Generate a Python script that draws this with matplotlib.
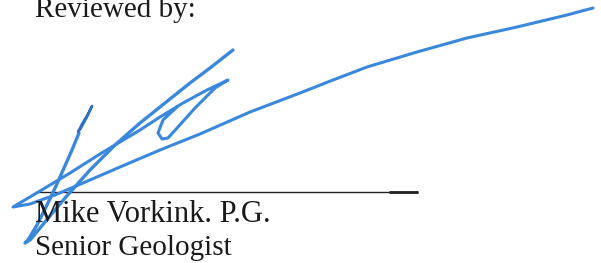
import matplotlib.pyplot as plt

# signature strokes, in pixel coordinates of the 601x263 image (y grows downward)
loop_x = [92, 88, 82, 78, 81, 87, 92]
loop_y = [106, 114, 124, 132, 128, 117, 106]

diag_x = [79, 72, 64, 56, 47, 37, 28, 25, 30, 45, 65, 90, 115, 140, 165, 190, 210, 233]
diag_y = [133, 150, 168, 186, 205, 225, 240, 243, 240, 222, 198, 170, 145, 123, 103, 83, 68, 50]

tail_x = [593, 567, 517, 467, 417, 367, 333, 300, 250, 200, 160, 120, 83, 55, 30, 13,
          40, 70, 100, 140, 160, 183, 207, 228,
          215, 195, 178, 168, 162, 158, 163, 177]
tail_y = [8, 15, 27, 38, 52, 67, 80, 93, 112, 134, 150, 167, 183, 195, 204, 207,
          191, 173, 154, 130, 117, 103, 90, 80,
          88, 108, 127, 138, 139, 133, 120, 107]

titulo = 'Reviewed by:'
nombre = 'Mike Vorkink. P.G.'
cargo = 'Senior Geologist'

fig = plt.figure(figsize=(6.01, 2.63), dpi=100)
ax = fig.add_axes([0, 0, 1, 1])
ax.set_xlim(0, 601)
ax.set_ylim(263, 0)
ax.axis('off')

fuente = dict(family='Liberation Serif', color='#1a1a1a', va='baseline')
ax.text(35, 17, titulo, fontsize=21, **fuente)
ax.text(35, 222, nombre, fontsize=22, **fuente)
ax.text(35, 255, cargo, fontsize=21, **fuente)

# signature line
ax.plot([35, 418], [191.5, 191.5], color='#222222', lw=1.0, solid_capstyle='butt')
ax.plot([389, 418], [191.5, 191.5], color='#222222', lw=2.0, solid_capstyle='butt')

azul = '#3a88dc'
ax.plot(tail_x, tail_y, color=azul, lw=2.2, solid_joinstyle='round', solid_capstyle='round')
ax.plot(diag_x, diag_y, color=azul, lw=2.4, solid_joinstyle='round', solid_capstyle='round')
ax.plot(loop_x, loop_y, color='#2f6fc8', lw=1.8, solid_joinstyle='round', solid_capstyle='round')

plt.savefig('out.png', dpi=100)
